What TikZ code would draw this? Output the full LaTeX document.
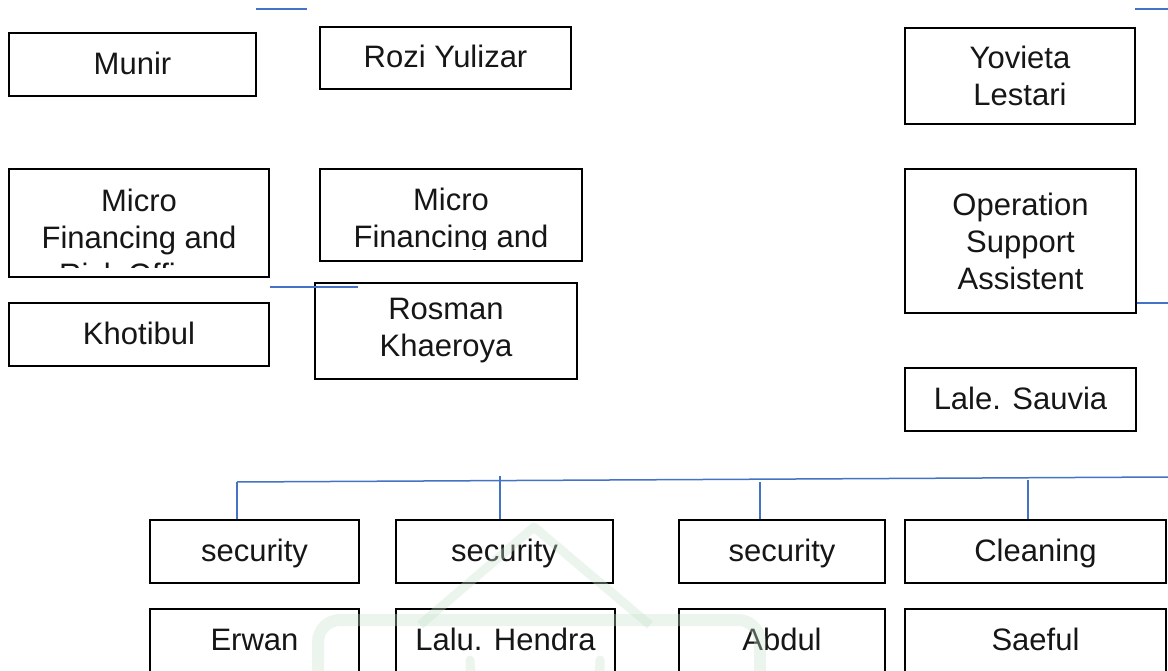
\documentclass[tikz,border=0pt]{standalone}
\usepackage{fontspec}
\setmainfont{Liberation Sans}
\definecolor{conncol}{RGB}{68,114,196}
\definecolor{wmcol}{RGB}{200,228,206}
\definecolor{txtcol}{RGB}{22,22,22}
\tikzset{
  box/.style={draw=black, line width=1.5pt, fill=white, inner sep=0pt, align=center,
    text=txtcol, font=\fontsize{31}{37}\selectfont},
  oneline/.style={text height=22.2pt, text depth=3pt},
  lbl/.style={inner sep=0pt, align=center, text=txtcol, font=\fontsize{31}{37}\selectfont},
  conn/.style={draw=conncol, line width=1.5pt},
  wm/.style={draw=wmcol, line width=9pt, line join=round, opacity=0.35}
}
\begin{document}
\begin{tikzpicture}[x=1pt, y=-1pt]
\useasboundingbox (0,0) rectangle (1168,671);
\clip (0,0) rectangle (1168,671);
\fill[white] (0,0) rectangle (1168,671);

% top row
\node[box, oneline, minimum width=247pt, minimum height=63pt] (munir) at (132.5,64.5) {Munir};
\node[box, oneline, minimum width=251pt, minimum height=62pt] (rozi) at (445.5,58) {Rozi Yulizar};
\node[box, minimum width=230pt, minimum height=96pt] (yovieta) at (1020,76) {Yovieta\\Lestari};

% micro financing boxes (text clipped)
\node[box, minimum width=260pt, minimum height=108pt] (micro1) at (139,223) {};
\begin{scope}
  \clip (11,171) rectangle (267,268);
  \node[lbl] (micro1t) at (139,237) {Micro\\Financing and\\Risk Officer};
\end{scope}
\node[box, minimum width=262pt, minimum height=92pt] (micro2) at (451,215) {};
\begin{scope}
  \clip (322,171) rectangle (580,250);
  \node[lbl] (micro2t) at (451,221) {Micro\\Financing and};
\end{scope}

\node[box, minimum width=231pt, minimum height=144pt] (ops) at (1020.5,241) {Operation\\Support\\Assistent};

\node[box, oneline, minimum width=260pt, minimum height=63pt] (khotibul) at (139,334.5) {Khotibul};
\node[box, minimum width=262pt, minimum height=96pt] (rosman) at (446,331) {Rosman\\Khaeroya};
\node[box, oneline, minimum width=231pt, minimum height=63pt] (lale) at (1020.5,399.5) {Lale. Sauvia};

% bottom rows
\node[box, oneline, minimum width=209pt, minimum height=63pt] (sec1) at (254.5,551.5) {security};
\node[box, oneline, minimum width=217pt, minimum height=63pt] (sec2) at (504.5,551.5) {security};
\node[box, oneline, minimum width=206pt, minimum height=63pt] (sec3) at (782,551.5) {security};
\node[box, oneline, minimum width=261pt, minimum height=63pt] (clean) at (1035.5,551.5) {Cleaning};

\node[box, oneline, minimum width=209pt, minimum height=63pt] (erwan) at (254.5,640.5) {Erwan};
\node[box, oneline, minimum width=219pt, minimum height=63pt] (lalu) at (505.5,640.5) {Lalu. Hendra};
\node[box, oneline, minimum width=206pt, minimum height=63pt] (abdul) at (782,640.5) {Abdul};
\node[box, oneline, minimum width=261pt, minimum height=63pt] (saeful) at (1035.5,640.5) {Saeful};

% faint watermark (overlay)
\draw[wm] (420,625) -- (534,527) -- (650,625);
\draw[wm, line width=12pt, rounded corners=22pt] (318,700) -- (318,620) -- (760,620) -- (760,700);
\draw[wm] (470,700) -- (470,660) arc[start angle=180, end angle=0, radius=65] -- (600,700);

% connectors
\coordinate (topA) at (256,9);
\coordinate (topB) at (307,9);
\coordinate (topC) at (1135,9);
\coordinate (topD) at (1168,9);
\draw[conn] (topA) -- (topB);
\draw[conn] (topC) -- (topD);

\coordinate (midE) at (358,287);
\draw[conn] (micro1.south east |- midE) -- (midE);

\coordinate (opsR) at (1168,303);
\draw[conn] (ops.east |- opsR) -- (opsR);

\coordinate (busL) at (237,482);
\coordinate (busR) at (1168,477);
\draw[conn] (busL) -- (busR);
\coordinate (d2) at (500,476);
\coordinate (d3) at (760,481.5);
\coordinate (d4) at (1028,480);
\draw[conn] (busL) -- (sec1.north -| busL);
\draw[conn] (d2) -- (sec2.north -| d2);
\draw[conn] (d3) -- (sec3.north -| d3);
\draw[conn] (d4) -- (clean.north -| d4);
\end{tikzpicture}
\end{document}
